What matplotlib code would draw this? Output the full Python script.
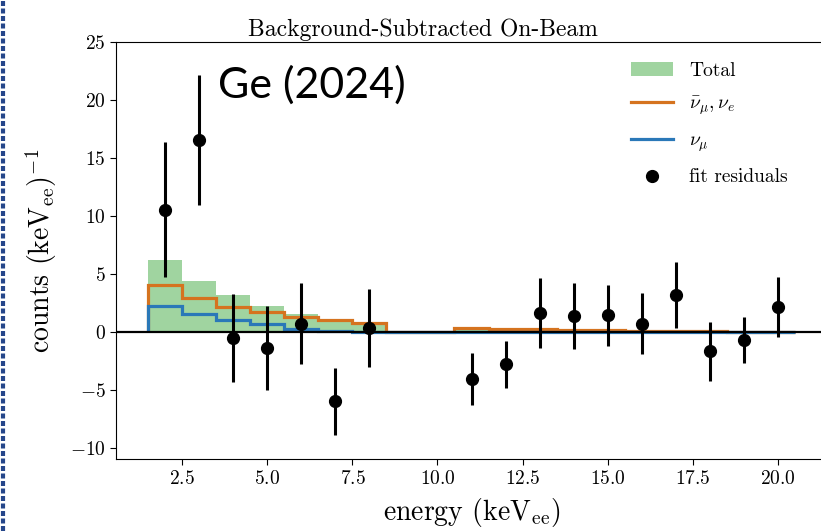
import numpy as np
import matplotlib
matplotlib.use("Agg")
import matplotlib.pyplot as plt
from matplotlib.lines import Line2D

# histogram bins (keVee)
bin_edges = [1.5, 2.5, 3.5, 4.5, 5.5, 6.5, 7.5, 8.5, 9.5, 10.5,
             11.5, 12.5, 13.5, 14.5, 15.5, 16.5, 17.5, 18.5, 19.5, 20.5]
total = [6.20, 4.40, 3.15, 2.25, 1.52, 1.05, 0.85, 0.0, 0.0,
         0.31, 0.28, 0.23, 0.17, 0.13, 0.10, 0.07, 0.05, 0.03, 0.02]
delayed = [4.02, 2.96, 2.14, 1.71, 1.28, 0.99, 0.80, 0.0, 0.0,
           0.30, 0.27, 0.22, 0.17, 0.13, 0.10, 0.07, 0.05, 0.03, 0.02]
prompt = [2.23, 1.57, 1.05, 0.65, 0.28, 0.05, 0.03, 0.0, 0.0,
          0.01, 0.01, 0.01, 0.0, 0.0, 0.0, 0.0, 0.0, 0.0, 0.0]

# fit residuals
res_x = [2, 3, 4, 5, 6, 7, 8, 11, 12, 13, 14, 15, 16, 17, 18, 19, 20]
res_y = [10.56, 16.6, -0.53, -1.37, 0.71, -5.98, 0.36, -4.1, -2.81,
         1.63, 1.34, 1.43, 0.71, 3.15, -1.66, -0.68, 2.14]
res_err = [5.85, 5.6, 3.8, 3.65, 3.5, 2.9, 3.35, 2.25, 2.0,
           3.0, 2.85, 2.65, 2.65, 2.85, 2.55, 2.0, 2.6]

x_ticks = [2.5, 5.0, 7.5, 10.0, 12.5, 15.0, 17.5, 20.0]
y_ticks = [-10, -5, 0, 5, 10, 15, 20, 25]

plt.rcParams["font.family"] = "cmr10"
plt.rcParams["mathtext.fontset"] = "cm"
plt.rcParams["axes.formatter.use_mathtext"] = True

ORANGE = "#d5731f"
BLUE = "#2a78b8"

fig = plt.figure(figsize=(8.21, 5.31), dpi=100)
ax = fig.add_axes([0.1413, 0.135, 0.866, 0.785])

ax.stairs(total, bin_edges, fill=True, color="#2ca02c", alpha=0.45,
          linewidth=0, label="Total")
ax.stairs(delayed, bin_edges, baseline=0, color=ORANGE, linewidth=2.3,
          label=r"$\bar{\nu}_\mu, \nu_e$")
ax.stairs(prompt, bin_edges, baseline=0, color=BLUE, linewidth=2.3,
          label=r"$\nu_\mu$")
ax.axhline(0, color="black", linewidth=1.6, zorder=3)

ax.errorbar(res_x, res_y, yerr=res_err, fmt="none", ecolor="black",
            elinewidth=2.2, zorder=4)
ax.plot(res_x, res_y, "o", color="black", markersize=8.5, zorder=5,
        label="fit residuals")

ax.set_xlim(0.55, 21.45)
ax.set_ylim(-11, 25)
ax.set_xticks(x_ticks)
ax.set_yticks(y_ticks)
ax.tick_params(labelsize=14, length=4, width=0.8)
ax.spines["right"].set_visible(False)

ax.set_xlabel(r"energy (keV$_{\rm ee}$)", fontsize=20, labelpad=6)
ax.set_ylabel(r"counts (keV$_{\rm ee}$)$^{-1}$", fontsize=20, labelpad=8)
ax.set_title("Background-Subtracted On-Beam", fontsize=17, x=0.432, pad=5)

ax.legend(loc="upper right", fontsize=14, frameon=False,
          handlelength=2.2, labelspacing=0.75, borderaxespad=0.6,
          bbox_to_anchor=(0.972, 1.0))

fig.text(218 / 821, 1 - 98 / 531, "Ge (2024)", family="Lato",
         fontsize=31, ha="left", va="baseline")

# dashed slide border on the left edge
fig.add_artist(Line2D([3 / 821, 3 / 821], [0, 1], transform=fig.transFigure,
                      color="#25468a", linewidth=3, dashes=(1.2, 0.6)))

fig.savefig("out.png", dpi=100)
